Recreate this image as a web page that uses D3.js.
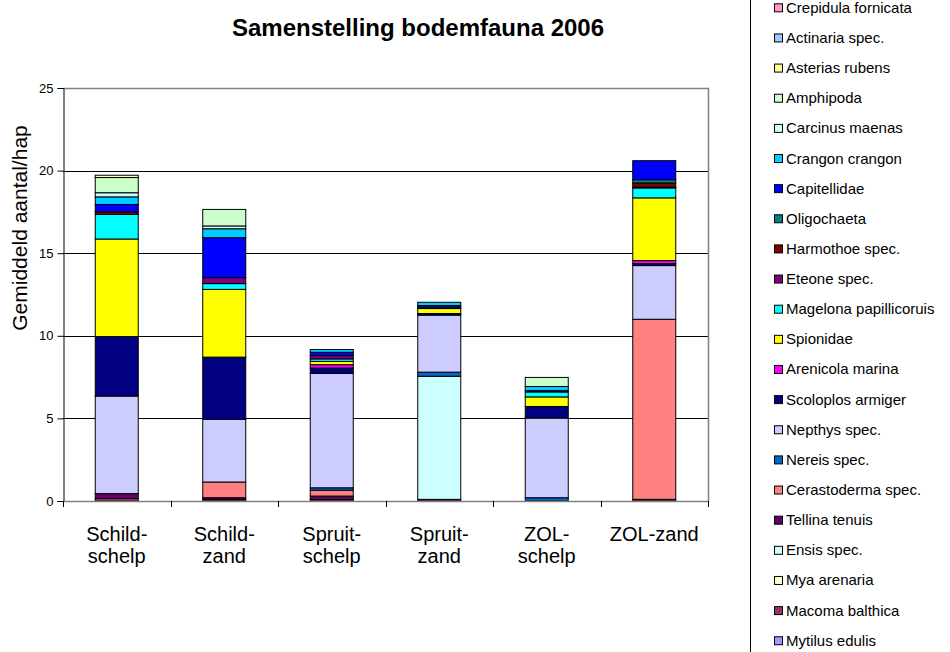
<!DOCTYPE html>
<html><head><meta charset="utf-8">
<script src="https://cdn.jsdelivr.net/npm/d3@7/dist/d3.min.js"></script>
<style>body{margin:0;background:#fff}svg{display:block;font-family:"Liberation Sans",Arial,sans-serif}</style>
</head><body><svg id="c" width="950" height="652"></svg>
<script>
const categories = ["Schild-\nschelp","Schild-\nzand","Spruit-\nschelp","Spruit-\nzand","ZOL-\nschelp","ZOL-zand"];
const yTicks = [0,5,10,15,20,25];
// series in legend order (top to bottom); stack order is the reverse
const seriesNames = ["Crepidula fornicata","Actinaria spec.","Asterias rubens","Amphipoda","Carcinus maenas","Crangon crangon","Capitellidae","Oligochaeta","Harmothoe spec.","Eteone spec.","Magelona papillicoruis","Spionidae","Arenicola marina","Scoloplos armiger","Nepthys spec.","Nereis spec.","Cerastoderma spec.","Tellina tenuis","Ensis spec.","Mya arenaria","Macoma balthica","Mytilus edulis"];
const seriesColors = ["#FF99CC","#99CCFF","#FFFF99","#CCFFCC","#CCFFFF","#00CCFF","#0000FF","#008080","#800000","#800080","#00FFFF","#FFFF00","#FF00FF","#000080","#CCCCFF","#0066CC","#FF8080","#660066","#CCFFFF","#FFFFCC","#993366","#9999FF"];
const crepidula   = [0,0,0,0,0,0];
const actinaria   = [0,0,0,0,0,0];
const asterias    = [0.14,0,0,0,0,0];
const amphipoda   = [0.92,1.0,0,0,0.55,0];
const carcinus    = [0.25,0.17,0,0,0,0];
const crangon     = [0.46,0.54,0.17,0.2,0.25,0];
const capitellidae= [0.45,2.42,0.2,0.1,0.08,1.15];
const oligochaeta = [0,0,0,0,0,0.2];
const harmothoe   = [0.15,0,0,0,0,0.25];
const eteone      = [0,0.36,0.2,0,0,0.05];
const magelona    = [1.49,0.35,0.15,0.08,0.3,0.6];
const spionidae   = [5.91,4.1,0.2,0.3,0.58,3.8];
const arenicola   = [0,0,0.2,0,0,0.18];
const scoloplos   = [3.6,3.76,0.32,0.1,0.7,0.12];
const nepthys     = [5.9,3.8,6.93,3.45,4.82,3.25];
const nereis      = [0,0,0.15,0.25,0.2,0];
const cerastoderma= [0,0.95,0.35,0,0,10.9];
const tellina     = [0.3,0.1,0.2,0,0,0];
const ensis       = [0,0,0,7.45,0,0];
const mya         = [0,0,0,0,0,0];
const macoma      = [0.15,0.1,0.1,0.1,0,0.1];
const mytilus     = [0,0,0,0,0,0];
const seriesValues = [crepidula,actinaria,asterias,amphipoda,carcinus,crangon,capitellidae,oligochaeta,harmothoe,eteone,magelona,spionidae,arenicola,scoloplos,nepthys,nereis,cerastoderma,tellina,ensis,mya,macoma,mytilus];

const svg = d3.select("#c");
const L=63, R=708, T=88, B=501;
const x = d3.scaleBand().domain(categories).range([L,R]).paddingInner(0.6).paddingOuter(0.3);
const y = d3.scaleLinear().domain([0,25]).range([B,T]);

// gridlines
svg.append("g").selectAll("line").data(yTicks.filter(d=>d>0&&d<25)).join("line")
  .attr("x1",L).attr("x2",R).attr("y1",d=>Math.round(y(d))+0.5).attr("y2",d=>Math.round(y(d))+0.5)
  .attr("stroke","#000").attr("stroke-width",1);
// plot border (top & right)
svg.append("path").attr("d",`M${L},${T+0.5}H${R+0.5}V${B}`).attr("fill","none").attr("stroke","#808080").attr("stroke-width",1.5);

// stacked data
const stackOrder = seriesNames.map((n,i)=>i).reverse();
const rows = categories.map((c,ci)=>{const o={cat:c}; seriesNames.forEach((n,si)=>o[n]=seriesValues[si][ci]); return o;});
const stack = d3.stack().keys(stackOrder.map(i=>seriesNames[i]));
const layers = stack(rows);
const colorOf = n => seriesColors[seriesNames.indexOf(n)];
svg.append("g").selectAll("g").data(layers).join("g")
  .attr("fill",d=>colorOf(d.key)).attr("stroke","#000").attr("stroke-width",1)
  .selectAll("rect").data(d=>d.filter(s=>s[1]-s[0]>0)).join("rect")
  .attr("x",d=>x(d.data.cat)).attr("width",x.bandwidth())
  .attr("y",d=>y(d[1])).attr("height",d=>y(d[0])-y(d[1]));

// y axis
const yAxis = d3.axisLeft(y).tickValues(yTicks).tickSize(6).tickPadding(4).tickFormat(d3.format("d"));
const ga = svg.append("g").attr("transform",`translate(${L+0.5},0)`).call(yAxis);
ga.select(".domain").attr("stroke","#000");
ga.selectAll(".tick line").attr("stroke","#000");
ga.selectAll("text").attr("font-size",13).attr("font-family","'Liberation Sans',Arial,sans-serif").attr("fill","#000");

// x axis
svg.append("line").attr("x1",L).attr("x2",R+1).attr("y1",B+0.5).attr("y2",B+0.5).attr("stroke","#808080").attr("stroke-width",1.5);
const bounds = d3.range(categories.length+1).map(i=>L + i*x.step());
svg.append("g").selectAll("line").data(bounds).join("line")
  .attr("x1",d=>Math.round(d)+0.5).attr("x2",d=>Math.round(d)+0.5).attr("y1",B).attr("y2",B+6)
  .attr("stroke","#000");
svg.append("g").selectAll("text").data(categories).join("text")
  .attr("text-anchor","middle").attr("font-size",20).attr("fill","#000")
  .attr("transform",d=>`translate(${x(d)+x.bandwidth()/2},${541})`)
  .each(function(d){const t=d3.select(this); d.split("\n").forEach((s,i)=>t.append("tspan").attr("x",0).attr("dy",i?22:0).text(s));});

// title
svg.append("text").attr("x",418).attr("y",36).attr("text-anchor","middle").attr("font-size",24).attr("font-weight","bold").text("Samenstelling bodemfauna 2006");
// y title
svg.append("text").attr("transform","translate(27,228) rotate(-90)").attr("text-anchor","middle").attr("font-size",21).text("Gemiddeld aantal/hap");

// legend
svg.append("rect").attr("x",750.5).attr("y",-5).attr("width",260).attr("height",670).attr("fill","#fff").attr("stroke","#000").attr("stroke-width",1);
const lg = svg.append("g").selectAll("g").data(seriesNames).join("g")
  .attr("transform",(d,i)=>`translate(774,${7.3+i*30.14})`);
lg.append("rect").attr("x",0.5).attr("y",-3.5).attr("width",8).attr("height",8).attr("fill",(d,i)=>seriesColors[i]).attr("stroke","#000");
lg.append("text").attr("x",12).attr("y",5.5).attr("font-size",15).attr("fill","#000").text(d=>d);
</script></body></html>
